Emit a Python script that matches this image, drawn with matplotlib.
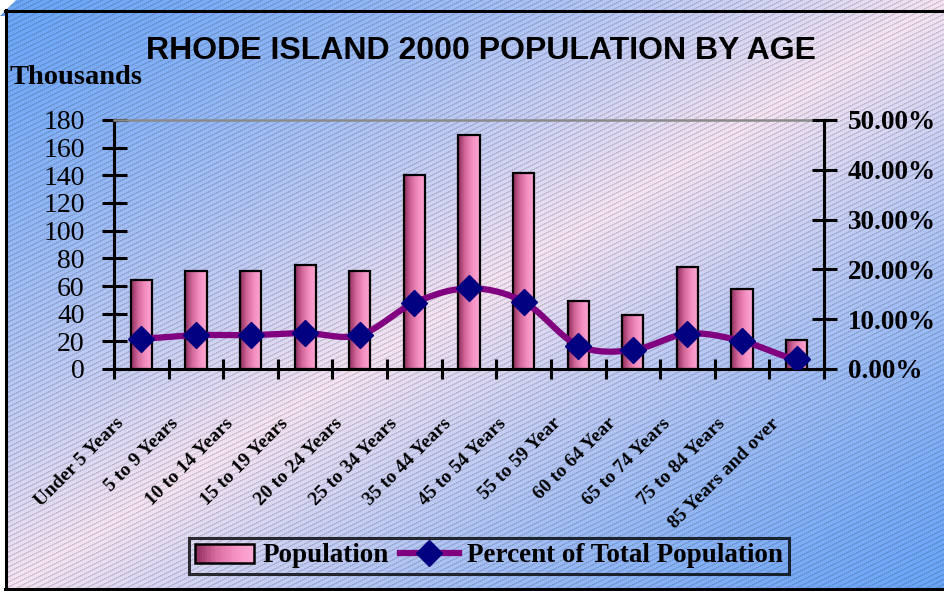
import numpy as np
import matplotlib
matplotlib.use("Agg")
import matplotlib.pyplot as plt
from matplotlib.colors import LinearSegmentedColormap
from matplotlib.patches import Rectangle
from matplotlib.lines import Line2D
from matplotlib.legend_handler import HandlerBase
import matplotlib.transforms as mtransforms

# ---- data ----
age_groups = ["Under 5 Years", "5 to 9 Years", "10 to 14 Years", "15 to 19 Years",
              "20 to 24 Years", "25 to 34 Years", "35 to 44 Years", "45 to 54 Years",
              "55 to 59 Year", "60 to 64 Year", "65 to 74 Years", "75 to 84 Years",
              "85 Years and over"]
population = [64, 71, 71, 75, 71, 140, 169, 142, 49.5, 39, 74, 58, 21]  # thousands
pct_total = [0.061, 0.068, 0.068, 0.072, 0.068, 0.133, 0.162, 0.135, 0.047, 0.038, 0.071, 0.056, 0.020]
left_ticks = list(range(0, 181, 20))
right_ticks = [0.0, 0.1, 0.2, 0.3, 0.4, 0.5]

SERIF = ["Liberation Serif", "DejaVu Serif"]
SANS = ["Liberation Sans", "DejaVu Sans"]

W, H = 944, 591
fig = plt.figure(figsize=(W / 100, H / 100), dpi=100)

# ---- background: diagonal blue/pink gradient with fine stripes ----
bg = fig.add_axes([0, 0, 1, 1])
bg.set_xlim(0, W)
bg.set_ylim(H, 0)
bg.axis("off")
X, Y = np.meshgrid(np.arange(W), np.arange(H))
t = (X / W + Y / H) / 2
f = np.clip(1 - np.abs(2 * t - 1), 0, 1) ** 1.4
blue = np.array([0.42, 0.65, 0.97])
pink = np.array([0.96, 0.89, 0.95])
img = blue * (1 - f[..., None]) + pink * f[..., None]
stripe = ((Y + 0.5 * X) % 5) < 1.3
img[stripe] *= 0.86
bg.imshow(img, extent=(0, W, H, 0), aspect="auto", interpolation="nearest")
# 3D frame edges
bg.fill([0, 0, 16], [0, 16, 0], color="white", lw=0)
bg.fill([0, 5, 5, 0], [16, 16, H, H], color="white", lw=0)
bg.fill([0, W, W, 0], [589, 589, H, H], color="white", lw=0)
bg.plot([5, W], [10.5, 10.5], color="black", lw=2.2)
bg.plot([5.5, 5.5], [10, 589], color="black", lw=2.2)
bg.plot([5, W], [588.5, 588.5], color="black", lw=2.2)

# ---- main axes ----
ax = fig.add_axes([114 / W, 1 - 369 / H, 710 / W, 249 / H])
ax.set_facecolor("none")
x = np.arange(len(age_groups))
bw = 0.39
bar_cmap = LinearSegmentedColormap.from_list("bar", ["#8e2d5e", "#d56a9c", "#f590c2", "#fca8d4"])
grad = np.linspace(0, 1, 64).reshape(1, -1)
for xi, v in zip(x, population):
    ax.imshow(grad, extent=(xi - bw / 2, xi + bw / 2, 0, v), aspect="auto",
              cmap=bar_cmap, zorder=2, interpolation="bilinear")
ax.bar(x, population, bw, fill=False, edgecolor="black", lw=1.6, zorder=3)
ax.set_xlim(-0.5, len(age_groups) - 0.5)
ax.set_ylim(0, 180)
ax.set_aspect("auto")

ax.spines["right"].set_visible(False)
ax.spines["top"].set_color("#8a8a8a")
ax.spines["top"].set_linewidth(1.8)
ax.spines["left"].set_linewidth(2.2)
ax.spines["bottom"].set_linewidth(2.2)

ax.set_yticks(left_ticks)
ax.set_yticklabels([str(v) for v in left_ticks], fontsize=20, family=SERIF)
ax.tick_params(axis="y", direction="inout", length=18, width=2.2, pad=12)

ax.set_xticks(x)
ax.set_xticks(np.arange(-0.5, len(age_groups), 1), minor=True)
ax.tick_params(axis="x", which="minor", direction="inout", length=15, width=2.2)
ax.tick_params(axis="x", which="major", length=0, pad=33)
ax.set_xticklabels(age_groups, rotation=45, ha="right", va="top", rotation_mode="anchor",
                   fontsize=14, fontweight="bold", family=SERIF)
shift = mtransforms.ScaledTranslation(-26 / 100, 0, fig.dpi_scale_trans)
for lab in ax.get_xticklabels():
    lab.set_transform(lab.get_transform() + shift)

# ---- percent line on secondary axis ----
ax2 = ax.twinx()
ax2.set_ylim(0, 0.5)
p = np.array(pct_total)
xs, ys = [], []
pp = np.concatenate([[p[0]], p, [p[-1]]])
xx = np.concatenate([[x[0]], x, [x[-1]]]).astype(float)
tt = np.linspace(0, 1, 25)
for i in range(1, len(pp) - 2):
    y0, y1, y2, y3 = pp[i - 1], pp[i], pp[i + 1], pp[i + 2]
    x1, x2 = xx[i], xx[i + 1]
    c1 = y1 + (y2 - y0) / 6
    c2 = y2 - (y3 - y1) / 6
    yb = (1 - tt) ** 3 * y1 + 3 * (1 - tt) ** 2 * tt * c1 + 3 * (1 - tt) * tt ** 2 * c2 + tt ** 3 * y2
    xs.extend(x1 + (x2 - x1) * tt)
    ys.extend(yb)
ax2.plot(xs, ys, color="#800080", lw=4.5, solid_capstyle="round", zorder=4)
ax2.plot(x, p, linestyle="none", marker="D", markersize=13, color="#000080", zorder=5)
ax2.set_yticks(right_ticks)
ax2.set_yticklabels([f"{v * 100:.2f}%" for v in right_ticks], fontsize=19.5,
                    fontweight="bold", family=SERIF)
ax2.tick_params(axis="y", direction="inout", length=18, width=2.2, pad=8)
for s in ["left", "top", "bottom"]:
    ax2.spines[s].set_visible(False)
ax2.spines["right"].set_linewidth(2.2)

# ---- titles ----
fig.text(481 / W, 1 - 51 / H, "RHODE ISLAND 2000 POPULATION BY AGE", ha="center", va="center",
         fontsize=23, fontweight="bold", family=SANS)
fig.text(10 / W, 1 - 78 / H, "Thousands", ha="left", va="center",
         fontsize=20.5, fontweight="bold", family=SERIF)


# ---- legend with gradient swatch ----
class GradientHandler(HandlerBase):
    def create_artists(self, legend, orig_handle, xdescent, ydescent, width, height, fontsize, trans):
        arts = []
        n = 24
        for k in range(n):
            arts.append(Rectangle((-xdescent + width * k / n, -ydescent), width / n + 0.3, height,
                                  facecolor=bar_cmap(k / (n - 1)), edgecolor="none", transform=trans))
        arts.append(Rectangle((-xdescent, -ydescent), width, height, facecolor="none",
                              edgecolor="black", lw=1.8, transform=trans))
        return arts


pop_handle = Rectangle((0, 0), 1, 1)
pct_handle = Line2D([], [], color="#800080", lw=4.5, marker="D", markersize=13,
                    markerfacecolor="#000080", markeredgecolor="#000080")
leg = fig.legend([pop_handle, pct_handle], ["Population", "Percent of Total Population"],
                 handler_map={Rectangle: GradientHandler()}, loc="center",
                 bbox_to_anchor=(489 / W, 1 - 556 / H), ncol=2, frameon=True, fancybox=False,
                 edgecolor="black", facecolor="none", handlelength=2.2, handletextpad=0.3,
                 columnspacing=0.4, borderpad=0.2, prop={"family": SERIF, "weight": "bold", "size": 19.5})
leg.get_frame().set_linewidth(2.2)

fig.savefig("out.png", dpi=100)
